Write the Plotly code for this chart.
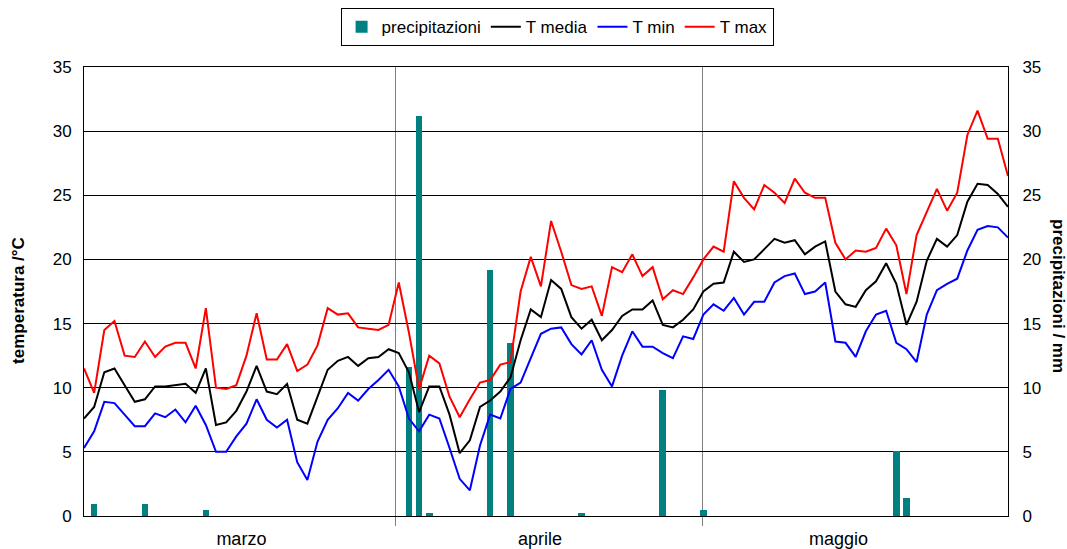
import plotly.graph_objects as go

# Daily series, 1 March - 31 May (92 days)
months = ["marzo", "aprile", "maggio"]

t_max = [
    11.5, 9.6, 14.5, 15.2, 12.5, 12.4, 13.6, 12.4, 13.2, 13.5, 13.5, 11.5, 16.2, 10.0, 9.9, 10.2,
    12.5, 15.8, 12.2, 12.2, 13.4, 11.3, 11.8, 13.3, 16.2, 15.7, 15.8, 14.7, 14.6, 14.5, 14.9,
    18.2, 14.3, 9.9, 12.5, 11.9, 9.3, 7.7, 9.1, 10.4, 10.6, 11.8, 12.0, 17.5, 20.2, 17.9,
    23.0, 20.6, 18.0, 17.7, 17.9, 15.6, 19.4, 19.0, 20.4, 18.7, 19.4, 16.9, 17.6, 17.3, 18.6,
    20.0, 21.0, 20.6, 26.1, 24.8, 23.9, 25.8, 25.2, 24.4, 26.3, 25.2, 24.8, 24.8, 21.3, 20.0, 20.7,
    20.6, 20.9, 22.4, 21.1, 17.3, 21.9, 23.7, 25.5, 23.8, 25.2, 29.7, 31.6, 29.4, 29.4, 26.5,
]

t_media = [
    7.6, 8.5, 11.2, 11.5, 10.2, 8.9, 9.1, 10.1, 10.1, 10.2, 10.3, 9.6, 11.5, 7.1, 7.3, 8.2,
    9.7, 11.7, 9.7, 9.5, 10.3, 7.5, 7.2, 9.3, 11.4, 12.1, 12.4, 11.7, 12.3, 12.4, 13.0,
    12.7, 11.2, 8.1, 10.1, 10.1, 7.9, 4.9, 5.9, 8.5, 9.0, 9.7, 10.8, 13.7, 16.1, 15.5,
    18.4, 17.7, 15.5, 14.6, 15.3, 13.7, 14.5, 15.6, 16.1, 16.1, 16.8, 14.9, 14.7, 15.3, 16.1,
    17.5, 18.1, 18.2, 20.6, 19.8, 20.0, 20.8, 21.6, 21.3, 21.5, 20.4, 21.0, 21.4, 17.5, 16.5, 16.3,
    17.6, 18.3, 19.7, 18.1, 14.9, 16.7, 19.9, 21.6, 21.0, 21.9, 24.5, 25.9, 25.8, 25.1, 24.1,
]

t_min = [
    5.3, 6.6, 8.9, 8.8, 7.9, 7.0, 7.0, 8.0, 7.7, 8.3, 7.3, 8.6, 7.1, 5.0, 5.0, 6.2,
    7.2, 9.1, 7.5, 6.9, 7.5, 4.2, 2.8, 5.8, 7.5, 8.4, 9.6, 9.0, 9.9, 10.6, 11.4,
    10.1, 7.6, 6.6, 7.9, 7.6, 5.3, 2.9, 2.0, 5.5, 7.9, 7.6, 9.9, 10.4, 12.3, 14.2,
    14.6, 14.7, 13.4, 12.6, 13.7, 11.4, 10.1, 12.5, 14.4, 13.2, 13.2, 12.7, 12.3, 14.0, 13.8,
    15.7, 16.5, 16.0, 17.0, 15.7, 16.7, 16.7, 18.2, 18.7, 18.9, 17.3, 17.5, 18.2, 13.6, 13.5, 12.4,
    14.4, 15.7, 16.0, 13.5, 13.0, 12.0, 15.7, 17.6, 18.1, 18.5, 20.7, 22.3, 22.6, 22.5, 21.7,
]

precipitazioni = [
    0, 0.9, 0, 0, 0, 0, 0.9, 0, 0, 0, 0, 0, 0.5, 0, 0, 0,
    0, 0, 0, 0, 0, 0, 0, 0, 0, 0, 0, 0, 0, 0, 0,
    0, 11.6, 31.2, 0.2, 0, 0, 0, 0, 0, 19.2, 0, 13.5, 0, 0, 0,
    0, 0, 0, 0.2, 0, 0, 0, 0, 0, 0, 0, 9.8, 0, 0, 0,
    0.5, 0, 0, 0, 0, 0, 0, 0, 0, 0, 0, 0, 0, 0, 0, 0,
    0, 0, 0, 5.1, 1.4, 0, 0, 0, 0, 0, 0, 0, 0, 0, 0,
]

days = list(range(len(t_max)))

FONT = "Liberation Sans, Arial, sans-serif"

fig = go.Figure()

# Rain bars on the base (right-hand) axis so the temperature lines sit above them
fig.add_trace(go.Bar(
    x=days, y=precipitazioni, name="precipitazioni",
    marker=dict(color="#008080", line=dict(width=0)),
    width=0.65, yaxis="y",
))
fig.add_trace(go.Scatter(x=days, y=t_media, name="T media", mode="lines",
                         line=dict(color="#000000", width=2), yaxis="y2"))
fig.add_trace(go.Scatter(x=days, y=t_min, name="T min", mode="lines",
                         line=dict(color="#0000FF", width=2), yaxis="y2"))
fig.add_trace(go.Scatter(x=days, y=t_max, name="T max", mode="lines",
                         line=dict(color="#FF0000", width=2), yaxis="y2"))

# month label positions and month boundary ticks on the day axis
month_centres = [15.5, 44.9, 74.3]
month_edges = [30.7, 60.95]

fig.update_layout(
    width=1067, height=549,
    margin=dict(l=84, r=59, t=67, b=33, autoexpand=False),
    paper_bgcolor="white", plot_bgcolor="white",
    font=dict(family=FONT, size=17, color="black"),
    bargap=0,
    showlegend=True,
    legend=dict(
        orientation="h", xref="paper", yref="container",
        x=0.512, xanchor="center", y=0.985, yanchor="top",
        bordercolor="black", borderwidth=1, bgcolor="white",
        font=dict(family=FONT, size=17), itemwidth=30,
        tracegroupgap=0,
    ),
    xaxis=dict(
        range=[0, 91], tickmode="array", tickvals=month_centres, ticktext=months,
        ticks="", showgrid=False, zeroline=False, automargin=False,
        showline=True, linecolor="black", linewidth=1, mirror=True,
        tickfont=dict(size=18), ticklabelstandoff=6,
        minor=dict(tickmode="array", tickvals=month_edges, ticks="outside",
                   ticklen=9, tickcolor="#808080", tickwidth=1,
                   showgrid=True, gridcolor="#808080", gridwidth=1),
    ),
    yaxis=dict(
        side="right", range=[0, 35], dtick=5, tick0=0, automargin=False,
        showgrid=True, gridcolor="black", gridwidth=1, zeroline=False,
        showline=True, linecolor="black", linewidth=1,
        ticks="", ticklabelstandoff=10, tickfont=dict(size=17),
    ),
    yaxis2=dict(
        side="left", overlaying="y", range=[0, 35], dtick=5, tick0=0, automargin=False,
        showgrid=False, zeroline=False,
        showline=True, linecolor="black", linewidth=1,
        ticks="", ticklabelstandoff=8, tickfont=dict(size=17),
    ),
    annotations=[
        dict(text="<b>temperatura /°C</b>", xref="paper", yref="paper",
             x=-0.071, y=0.48, textangle=-90, showarrow=False,
             xanchor="center", yanchor="middle", font=dict(size=17)),
        dict(text="<b>precipitazioni / mm</b>", xref="paper", yref="paper",
             x=1.054, y=0.49, textangle=90, showarrow=False,
             xanchor="center", yanchor="middle", font=dict(size=17)),
    ],
)

fig.write_html("out.html")
